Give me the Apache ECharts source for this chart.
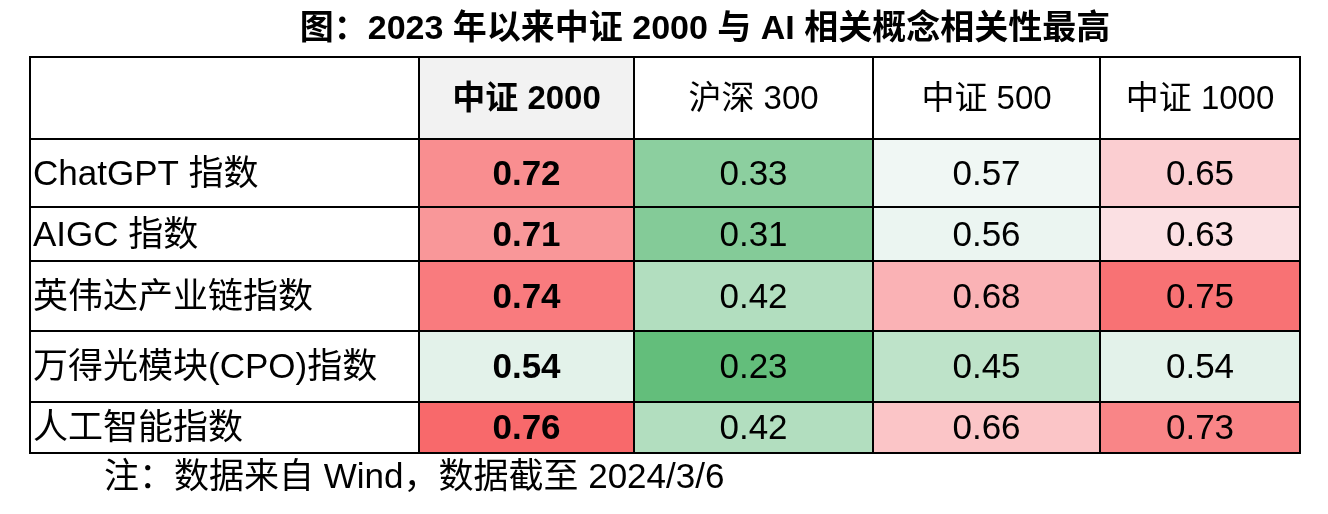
<!DOCTYPE html><html><head><meta charset="utf-8">
<script src="https://cdn.jsdelivr.net/npm/echarts@6/dist/echarts.min.js"></script>
<style>html,body{margin:0;background:#fff}#c{width:1328px;height:514px}</style></head>
<body><div id="c"></div><script>
const columns = ['中证 2000','沪深 300','中证 500','中证 1000'];
const rows = ['ChatGPT 指数','AIGC 指数','英伟达产业链指数','万得光模块(CPO)指数','人工智能指数'];
const v2000 = [0.72,0.71,0.74,0.54,0.76];
const v300 = [0.33,0.31,0.42,0.23,0.42];
const v500 = [0.57,0.56,0.68,0.45,0.66];
const v1000 = [0.65,0.63,0.75,0.54,0.73];
const title = '图：2023 年以来中证 2000 与 AI 相关概念相关性最高';
const note = '注：数据来自 Wind，数据截至 2024/3/6';

// layout (pixel units within grid)
const colEdges = [0,389,604,843,1070,1270];
const rowEdges = [0,82,150,204,274,345,396];
const FONT = '"Liberation Sans","Noto Sans CJK SC",sans-serif';
const cols = [v2000,v300,v500,v1000];
const body = [];
cols.forEach((arr,c)=>arr.forEach((v,r)=>body.push([c+1,r+1,v])));
const heads = columns.map((n,i)=>[i+1,0,n]);
const labels = rows.map((n,i)=>[0,i+1,n]);
labels.unshift([0,0,'']);
const lo=0.23, mid=0.6, hi=0.76;
function colorOf(v){
  if(v<=mid) return echarts.color.lerp((v-lo)/(mid-lo),['#63be7b','#fcfcff']);
  return echarts.color.lerp((v-mid)/(hi-mid),['#fcfcff','#f8696b']);
}
function cellRect(api,c,r){
  const p0=api.coord([colEdges[c],rowEdges[r]]), p1=api.coord([colEdges[c+1],rowEdges[r+1]]);
  return {x:p0[0],y:p0[1],width:p1[0]-p0[0],height:p1[1]-p0[1]};
}
function mk(kind){
  return function(params,api){
    const c=api.value(0), r=api.value(1);
    const d = kind==='body'?body[params.dataIndex]:kind==='head'?heads[params.dataIndex]:labels[params.dataIndex];
    const rc=cellRect(api,c,r);
    let fill='#fff', txt=String(d[2]), bold=false, align='center', tx=rc.x+rc.width/2, size=34;
    if(kind==='body'){fill=colorOf(d[2]); txt=d[2].toFixed(2); bold=(c===1); size=35;}
    if(kind==='head'){fill=(c===1)?'#f2f2f2':'#fff'; bold=(c===1); size=33;}
    if(kind==='label'){align='left'; tx=rc.x+3; size=35;}
    return {type:'group',children:[
      {type:'rect',shape:rc,style:{fill:fill,stroke:'#000',lineWidth:2}},
      {type:'text',style:{x:tx,y:rc.y+rc.height/2+2,text:txt,textAlign:align,textVerticalAlign:'middle',
        font:(bold?'bold ':'')+size+'px '+FONT,fill:'#000'}}
    ]};
  };
}
const chart=echarts.init(document.getElementById('c'));
chart.setOption({
  animation:false,
  title:{text:title,left:700,top:8,textAlign:'center',textStyle:{fontFamily:FONT,fontSize:34,fontWeight:'bold',color:'#000'}},
  graphic:[{type:'text',left:104,top:461,style:{text:note,font:'35px '+FONT,fill:'#000'}}],
  grid:{left:30,top:57,width:1270,height:396},
  xAxis:{type:'value',min:0,max:1270,show:false},
  yAxis:{type:'value',min:0,max:396,inverse:true,show:false},
  series:[
    {type:'custom',renderItem:mk('label'),data:labels.map(d=>[d[0],d[1]]),encode:{x:-1,y:-1}},
    {type:'custom',renderItem:mk('head'),data:heads.map(d=>[d[0],d[1]]),encode:{x:-1,y:-1}},
    {type:'custom',renderItem:mk('body'),data:body.map(d=>[d[0],d[1],d[2]]),encode:{x:-1,y:-1}}
  ]
});
</script></body></html>
